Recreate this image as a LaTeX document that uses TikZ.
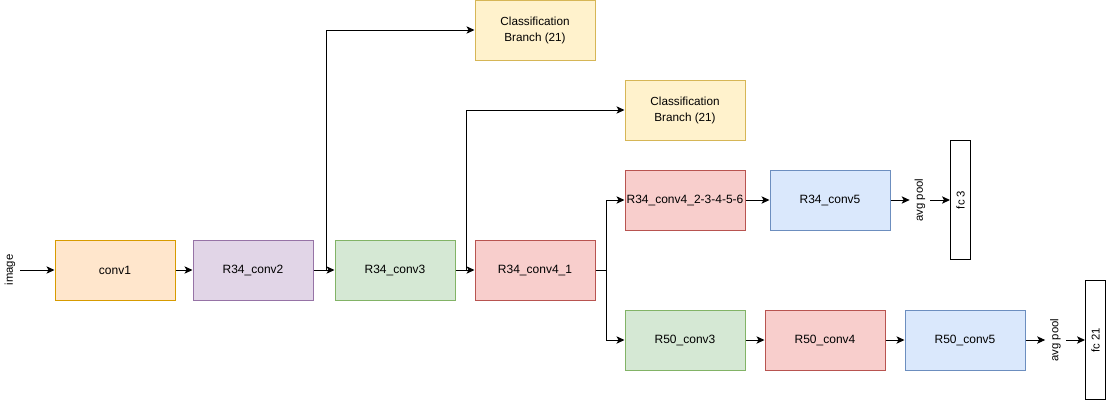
\documentclass[tikz,border=0pt]{standalone}
\usepackage{fontspec}
\setmainfont{Liberation Sans}
\usetikzlibrary{arrows.meta}
\definecolor{orF}{HTML}{FFE6CC}\definecolor{orD}{HTML}{D79B00}
\definecolor{puF}{HTML}{E1D5E7}\definecolor{puD}{HTML}{9673A6}
\definecolor{grF}{HTML}{D5E8D4}\definecolor{grD}{HTML}{82B366}
\definecolor{reF}{HTML}{F8CECC}\definecolor{reD}{HTML}{B85450}
\definecolor{yeF}{HTML}{FFF2CC}\definecolor{yeD}{HTML}{D6B656}
\definecolor{blF}{HTML}{DAE8FC}\definecolor{blD}{HTML}{6C8EBF}
\tikzset{
  blk/.style={rectangle, line width=0.75pt, minimum width=90pt, minimum height=45pt, inner sep=0pt, font=\fontsize{9}{10.8}\selectfont, align=center},
  orB/.style={blk, fill=orF, draw=orD},
  puB/.style={blk, fill=puF, draw=puD},
  grB/.style={blk, fill=grF, draw=grD},
  reB/.style={blk, fill=reF, draw=reD},
  yeB/.style={blk, fill=yeF, draw=yeD, font=\fontsize{8.8}{12}\selectfont},
  blB/.style={blk, fill=blF, draw=blD},
  fcB/.style={rectangle, draw=black, fill=white, line width=0.75pt, minimum width=15pt, minimum height=89.25pt, inner sep=0pt, font=\fontsize{8.5}{10}\selectfont},
  lbl/.style={rotate=90, inner xsep=0pt, inner ysep=3.6pt, font=\fontsize{8.5}{10}\selectfont},
  arr/.style={line width=0.75pt, -{Stealth[length=6pt,width=5.5pt,inset=1.5pt]}},
  ln/.style={line width=0.75pt}
}
\begin{document}
\begin{tikzpicture}[x=0.75pt,y=-0.75pt]
\useasboundingbox (0,0) rectangle (1106,401);
\node[lbl] (image) at (10,270) {image};
\node[orB] (conv1) at (115,270) {conv1};
\node[puB] (c2) at (253,270) {R34\_conv2};
\node[grB] (c3) at (395,270) {R34\_conv3};
\node[reB] (c41) at (535,270) {R34\_conv4\_1};
\node[yeB] (cb1) at (535,30) {Classification\\Branch (21)};
\node[yeB] (cb2) at (685,110) {Classification\\Branch (21)};
\node[reB] (c42) at (685,200) {R34\_conv4\_2-3-4-5-6};
\node[blB] (c5) at (830,200) {R34\_conv5};
\node[lbl] (ap1) at (920,200) {avg pool};
\node[fcB] (fc3) at (960.5,200) {\rotatebox{90}{fc 3}};
\node[grB] (r3) at (685,340) {R50\_conv3};
\node[reB] (r4) at (825,340) {R50\_conv4};
\node[blB] (r5) at (965,340) {R50\_conv5};
\node[lbl] (ap2) at (1055.5,340) {avg pool};
\node[fcB] (fc21) at (1095.5,340) {\rotatebox{90}{fc 21}};
\coordinate (j1) at (326,270);
\coordinate (j2) at (466,270);
\coordinate (j3) at (606,270);
\draw[arr] (image) -- (conv1);
\draw[arr] (conv1) -- (c2);
\draw[arr] (c2) -- (c3);
\draw[arr] (c3) -- (c41);
\draw[arr] (j1) |- (cb1.west);
\draw[arr] (j2) |- (cb2.west);
\draw[ln] (c41.east) -- (j3);
\draw[arr] (j3) |- (c42.west);
\draw[arr] (j3) |- (r3.west);
\draw[arr] (c42) -- (c5);
\draw[arr] (c5) -- (ap1);
\draw[arr] (ap1) -- (fc3);
\draw[arr] (r3) -- (r4);
\draw[arr] (r4) -- (r5);
\draw[arr] (r5) -- (ap2);
\draw[arr] (ap2) -- (fc21);
\end{tikzpicture}
\end{document}
